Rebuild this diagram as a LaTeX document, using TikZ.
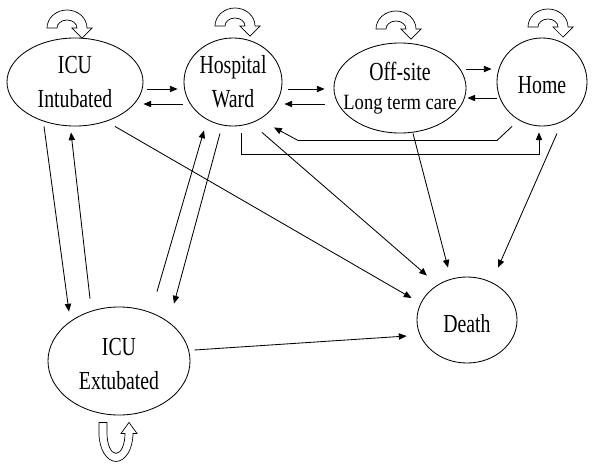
\documentclass[tikz,border=0pt]{standalone}
\usepackage{fontspec}
\setmainfont{Liberation Serif}[FakeStretch=0.76]
\newfontfamily\widerserif{Liberation Serif}[FakeStretch=0.85]
\usetikzlibrary{shapes.geometric,arrows.meta,calc}

\begin{document}
\begin{tikzpicture}[x=0.025cm,y=-0.025cm,
        line width=0.6pt,
        >={Triangle[length=5.5pt,width=4.5pt]},
        state/.style={draw,ellipse,inner sep=0pt},
        statetext/.style={align=center,inner sep=0pt,font=\fontsize{18.5}{24}\selectfont},
        selfloop/.pic={
            \draw[line width=0.5pt,fill=white] (-20,0) arc[start angle=180,end angle=360,x radius=20,y radius=18]
                -- (25,0) -- (15,10) -- (5,0) -- (10,0)
                arc[start angle=360,end angle=180,x radius=10,y radius=8] -- cycle;
        }]

    \useasboundingbox (0,0) rectangle (600,463);

    % states
    \node[state,minimum width=3.4cm,minimum height=2.2cm] (icuint) at (75,82) {};
    \node[state,minimum width=2.45cm,minimum height=2.2cm] (ward) at (233,82) {};
    \node[state,minimum width=3.3cm,minimum height=2.25cm] (offsite) at (400,88) {};
    \node[state,minimum width=2.25cm,minimum height=2.2cm] (home) at (542,82) {};
    \node[state,minimum width=3.55cm,minimum height=2.7cm] (icuext) at (119,361) {};
    \node[state,minimum width=2.5cm,minimum height=2.15cm] (death) at (467,320) {};

    \node[statetext] (icuint-txt) at (icuint) {ICU\\Intubated};
    \node[statetext] (ward-txt) at (ward) {Hospital\\Ward};
    \node[statetext,font=\fontsize{18.5}{21}\selectfont] (offsite-txt) at (offsite)
        {Off-site\\{\widerserif\fontsize{15.5}{21}\selectfont Long term care}};
    \node[statetext] (home-txt) at ($(home)+(0,3)$) {Home};
    \node[statetext] (icuext-txt) at ($(icuext)+(0,3)$) {ICU\\Extubated};
    \node[statetext] (death-txt) at ($(death)+(0,4)$) {Death};

    % staying in the same state
    \pic (icuint-loop) at (67,28) {selfloop};
    \pic (ward-loop) at (235,26) {selfloop};
    \pic (offsite-loop) at (396,29) {selfloop};
    \pic (home-loop) at (548,27) {selfloop};
    \draw[line width=0.5pt,fill=white] ($(icuext.south)+(-20,7)$) -- ++(0,11)
        arc[start angle=180,end angle=0,x radius=17,y radius=28]
        -- ++(4,0) -- ++(-8,-11) -- ++(-8,11) -- ++(4,0)
        arc[start angle=0,end angle=180,x radius=9,y radius=20] -- ++(0,-11) -- cycle;

    % transitions along the top row
    \draw[->] ($(icuint.east)+(4,7)$) -- ($(ward.west)+(-6,7)$);
    \draw[->] ($(ward.west)+(-1,22)$) -- ($(icuint.east)+(0,22)$);
    \draw[->] ($(ward.east)+(6,7)$) -- ($(offsite.west)+(-9,1)$);
    \draw[->] ($(offsite.west)+(-9,16)$) -- ($(ward.east)+(2,22)$);
    \draw[->] ($(offsite.east)+(0,-19)$) -- ($(home.west)+(-5,-13)$);
    \draw[->] ($(home.west)+(0,16)$) -- ($(offsite.east)+(1,10)$);
    \draw[->] ($(home.south)+(-30,0)$) -- ++(-15,14) -- ($(ward.south)+(65,14)$) -- ($(ward.south)+(41,1)$);
    \draw[->] ($(ward.south)+(8,7)$) -- ++(0,21) -| ($(home.south)+(-3,6)$);

    % transitions with the extubated state
    \draw[->] ($(icuint.south)+(-31,0)$) -- ($(icuext.north)+(-50,5)$);
    \draw[->] ($(icuext.north)+(-29,-8)$) -- ($(icuint.south)+(-4,6)$);
    \draw[->] ($(icuext.north)+(38,-15)$) -- ($(ward.south)+(-29,4)$);
    \draw[->] ($(ward.south)+(-13,7)$) -- ($(icuext.north)+(55,-3)$);

    % transitions to death
    \draw[->] ($(icuint.south)+(40,0)$) -- ($(death.west)+(-5,-22)$);
    \draw[->] ($(ward.south)+(29,6)$) -- ($(death.north)+(-40,-1)$);
    \draw[->] ($(offsite.south)+(13,0)$) -- ($(death.north)+(-19,-9)$);
    \draw[->] ($(home.south)+(15,7)$) -- ($(death.north)+(31,-9)$);
    \draw[->] ($(icuext.east)+(4,-11)$) -- ($(death.west)+(-10,16)$);
\end{tikzpicture}
\end{document}
